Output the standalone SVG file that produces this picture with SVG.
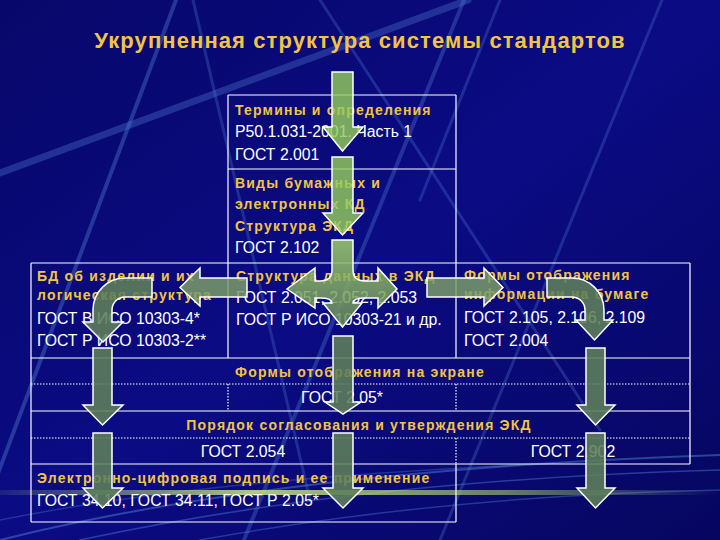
<svg xmlns="http://www.w3.org/2000/svg" width="720" height="540" viewBox="0 0 720 540">
<defs>
<linearGradient id="bg" x1="0" y1="0" x2="1" y2="1">
<stop offset="0" stop-color="#07076a"/>
<stop offset="0.5" stop-color="#0b0b84"/>
<stop offset="1" stop-color="#060660"/>
</linearGradient>
<linearGradient id="glow" x1="0" y1="0" x2="1" y2="0">
<stop offset="0" stop-color="#b8d878" stop-opacity="0.1"/>
<stop offset="0.35" stop-color="#c0dc80" stop-opacity="0.9"/>
<stop offset="0.7" stop-color="#a8cc70" stop-opacity="0.6"/>
<stop offset="1" stop-color="#a8cc70" stop-opacity="0"/>
</linearGradient>
<linearGradient id="quad" x1="0" y1="240" x2="0" y2="327" gradientUnits="userSpaceOnUse">
<stop offset="0" stop-color="#9fd06a"/>
<stop offset="1" stop-color="#66885a"/>
</linearGradient>
<style>
.y{font-family:"Liberation Sans",Arial,sans-serif;font-weight:bold;font-size:14px;letter-spacing:1.2px;fill:#f2c444}
.w{font-family:"Liberation Sans",Arial,sans-serif;font-size:15.8px;fill:#ffffff}
.ln{stroke:#ffffff;stroke-width:1.2;fill:none}
.dt{stroke:#ffffff;stroke-width:1.2;fill:none;stroke-dasharray:1.5 1.5}
.deco{stroke:#4f7fd0;fill:none;stroke-linecap:round}
.ag{fill:#93cc5c;fill-opacity:0.82;stroke:#ffffff;stroke-width:1.5;stroke-linejoin:miter}
.am{fill:#7a9c68;fill-opacity:0.85;stroke:#ffffff;stroke-width:1.5}
.ad{fill:#5f805a;fill-opacity:0.88;stroke:#ffffff;stroke-width:1.5}
</style>
</defs>

<rect width="720" height="540" fill="url(#bg)"/>
<g id="background-decor">
<line class="deco" x1="468" y1="0" x2="0" y2="173" stroke-width="7" stroke-opacity="0.35"/>
<line class="deco" x1="464" y1="0" x2="244" y2="540" stroke-width="4" stroke-opacity="0.35"/>
<line class="deco" x1="176" y1="0" x2="-27" y2="540" stroke-width="4" stroke-opacity="0.4"/>
<line class="deco" x1="193" y1="0" x2="310" y2="500" stroke-width="3" stroke-opacity="0.3"/>
<line class="deco" x1="320" y1="0" x2="600" y2="430" stroke-width="3" stroke-opacity="0.3"/>
<line class="deco" x1="500" y1="0" x2="420" y2="200" stroke-width="3" stroke-opacity="0.3"/>
<line class="deco" x1="662" y1="0" x2="440" y2="540" stroke-width="3" stroke-opacity="0.3"/>
<path class="deco" d="M0,540 Q280,470 720,455" stroke-width="2" stroke-opacity="0.5"/>
<path class="deco" d="M80,540 Q360,480 720,470" stroke-width="1.5" stroke-opacity="0.45"/>
<path class="deco" d="M200,540 Q450,495 720,490" stroke-width="1.5" stroke-opacity="0.4"/>
<path class="deco" d="M0,520 Q200,480 520,465" stroke-width="1.5" stroke-opacity="0.35"/>
<rect x="0" y="490" width="720" height="5" fill="url(#glow)"/>
</g>

<text id="title" x="360" y="48" text-anchor="middle" font-family="Liberation Sans, Arial, sans-serif" font-weight="bold" font-size="22" letter-spacing="1.1" fill="#f3c444">Укрупненная структура системы стандартов</text>

<g id="grid">
<path class="ln" d="M228,95 H456 M228,169 H456 M228,95 V263 M456,95 V263"/>
<path class="ln" d="M31,263 H690 M31,263 V522 M228,263 V358 M456,263 V358 M690,263 V464 M31,358 H690 M31,411 H690 M31,464 H690 M456,464 V522 M31,522 H456"/>
<path class="dt" d="M31,384 H690 M31,438 H690 M228,384 V411 M456,384 V411 M456,438 V464"/>
</g>

<g id="node-terms">
<text class="y" x="235" y="115">Термины и определения</text>
<text class="w" x="235" y="137">Р50.1.031-2001. Часть 1</text>
<text class="w" x="235" y="160">ГОСТ 2.001</text>
</g>
<g id="node-kinds">
<text class="y" x="235" y="188">Виды бумажных и</text>
<text class="y" x="235" y="209">электронных КД</text>
<text class="y" x="235" y="231">Структура ЭКД</text>
<text class="w" x="235" y="253">ГОСТ 2.102</text>
</g>
<g id="node-db">
<text class="y" x="37" y="281">БД об изделии и их</text>
<text class="y" x="37" y="300">логическая структура</text>
<text class="w" x="37" y="324">ГОСТ В ИСО 10303-4*</text>
<text class="w" x="37" y="346">ГОСТ Р ИСО 10303-2**</text>
</g>
<g id="node-data">
<text class="y" x="236" y="281">Структура данных в ЭКД</text>
<text class="w" x="236" y="303">ГОСТ 2.051, 2.052, 2.053</text>
<text class="w" x="236" y="325">ГОСТ Р ИСО 10303-21 и др.</text>
</g>
<g id="node-paper">
<text class="y" x="464" y="280">Формы отображения</text>
<text class="y" x="464" y="299">информации на бумаге</text>
<text class="w" x="464" y="323">ГОСТ 2.105, 2.106, 2.109</text>
<text class="w" x="464" y="346">ГОСТ 2.004</text>
</g>
<g id="node-screen">
<text class="y" x="360" y="377" text-anchor="middle">Формы отображения на экране</text>
<text class="w" x="342" y="403" text-anchor="middle">ГОСТ 2.05*</text>
</g>
<g id="node-approval">
<text class="y" x="359" y="430" text-anchor="middle">Порядок согласования и утверждения ЭКД</text>
<text class="w" x="243" y="457" text-anchor="middle">ГОСТ 2.054</text>
<text class="w" x="573" y="457" text-anchor="middle">ГОСТ 2.902</text>
</g>
<g id="node-signature">
<text class="y" x="37" y="483">Электронно-цифровая подпись и ее применение</text>
<text class="w" x="37" y="506">ГОСТ 34.10,  ГОСТ 34.11, ГОСТ Р 2.05*</text>
</g>

<g id="connectors">
<path class="ag" d="M332,72 H353 V127 H363 L342.5,151 L323,127 H332 Z"/>
<path class="ag" d="M332,157 H353 V213 H363 L342.5,235 L323,213 H332 Z"/>
<path d="M332,240 H353 V270 Q353,281 365,281 H378 V268 L397,289 L378,308 V298 H365 Q353,298 353,303 H362 L342.5,327 L323,303 H332 Q332,298 320,298 H315 V308 L287,289 L315,268 V281 H320 Q332,281 332,270 Z" fill="url(#quad)" fill-opacity="0.85" stroke="#ffffff" stroke-width="1.5"/>
<path class="am" d="M247,278 V297 H200 V306 L180,287.5 L200,268 V278 Z"/>
<path class="am" d="M427,278 V297 H484 V306 L503,287.5 L484,268 V278 Z"/>
<path class="ad" d="M152,278 H125 A32,32 0 0 0 93,310 V322 H83 L103,342 L123,322 H112 V310 A13,13 0 0 1 125,297 H152 Z"/>
<path class="ad" d="M547,278 H572 A32,32 0 0 1 604,310 V320 H613 L594.5,340 L576,320 H585 V310 A13,13 0 0 0 572,297 H547 Z"/>
<path class="ad" d="M93,348 H112 V405 H123 L102.5,425 L83,405 H93 Z"/>
<path class="ad" d="M93,433 H112 V488 H123 L102.5,508 L83,488 H93 Z"/>
<path class="ad" d="M333,336 H353 V402 H361 L343,414 L325,402 H333 Z"/>
<path class="ad" d="M333,433 H353 V488 H363 L343,508 L323,488 H333 Z"/>
<path class="ad" d="M586,348 H605 V405 H615 L595.5,425 L577,405 H586 Z"/>
<path class="ad" d="M586,433 H605 V488 H615 L595.5,508 L577,488 H586 Z"/>
</g>
</svg>
